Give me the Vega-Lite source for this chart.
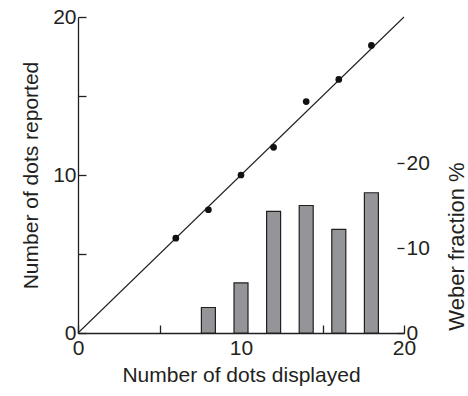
{
  "$schema": "https://vega.github.io/schema/vega-lite/v6.json",
  "width": 326,
  "height": 316,
  "autosize": {"type": "none"},
  "padding": {"left": 78, "top": 17, "right": 64, "bottom": 63},
  "background": "white",
  "config": {
    "view": {"stroke": null},
    "axis": {
      "grid": false,
      "labelFlush": false,
      "labelFont": "Liberation Sans",
      "titleFont": "Liberation Sans",
      "labelFontSize": 21,
      "titleFontSize": 21,
      "titleFontWeight": "normal",
      "labelColor": "#231f20",
      "titleColor": "#231f20",
      "domainColor": "#231f20",
      "tickColor": "#231f20",
      "domainWidth": 1.3,
      "tickWidth": 1.3
    }
  },
  "datasets": {
    "diag": [{"displayed": 0, "reported": 0}, {"displayed": 20, "reported": 20}],
    "points": [
      {"displayed": 6, "reported": 6.0},
      {"displayed": 8, "reported": 7.8},
      {"displayed": 10, "reported": 10.0},
      {"displayed": 12, "reported": 11.75},
      {"displayed": 14, "reported": 14.65},
      {"displayed": 16, "reported": 16.05},
      {"displayed": 18, "reported": 18.2}
    ],
    "weber": [
      {"displayed": 8, "weber": 3.0},
      {"displayed": 10, "weber": 5.9},
      {"displayed": 12, "weber": 14.3},
      {"displayed": 14, "weber": 15.0},
      {"displayed": 16, "weber": 12.2},
      {"displayed": 18, "weber": 16.5}
    ]
  },
  "layer": [
    {
      "layer": [
        {
          "data": {"name": "diag"},
          "mark": {"type": "line", "color": "#231f20", "strokeWidth": 1.1},
          "encoding": {
            "x": {
              "field": "displayed", "type": "quantitative",
              "scale": {"domain": [0, 20], "padding": 0, "nice": false},
              "axis": {
                "domain": true,
                "values": [0, 5, 10, 15, 20],
                "labelExpr": "datum.value % 10 === 0 ? datum.label : ''",
                "tickSize": -8,
                "labelPadding": 12,
                "title": "Number of dots displayed",
                "titlePadding": 6
              }
            },
            "y": {
              "field": "reported", "type": "quantitative",
              "scale": {"domain": [0, 20], "nice": false},
              "axis": {
                "domain": true,
                "values": [0, 5, 10, 15, 20],
                "labelExpr": "datum.value % 10 === 0 ? datum.label : ''",
                "tickSize": -8,
                "labelPadding": 10,
                "title": "Number of dots reported",
                "titlePadding": 11
              }
            }
          }
        },
        {
          "data": {"name": "points"},
          "mark": {"type": "circle", "size": 45, "color": "#111111", "opacity": 1},
          "encoding": {
            "x": {"field": "displayed", "type": "quantitative"},
            "y": {"field": "reported", "type": "quantitative"}
          }
        }
      ]
    },
    {
      "layer": [
        {
          "data": {"name": "weber"},
          "mark": {"type": "bar", "orient": "vertical", "size": 14, "fill": "#939598", "stroke": "#231f20", "strokeWidth": 1.2},
          "encoding": {
            "x": {"field": "displayed", "type": "quantitative", "scale": {"domain": [0, 20], "padding": 0, "nice": false}},
            "y": {
              "field": "weber", "type": "quantitative",
              "scale": {"domain": [0, 37.18], "nice": false},
              "axis": {
                "orient": "right",
                "values": [0, 10, 20],
                "domain": false,
                "tickSize": -7,
                "labelPadding": 9,
                "title": "Weber fraction %",
                "titleFontSize": 22,
                "titleAngle": 270,
                "titleX": 59,
                "titleY": 229,
                "titleAlign": "center",
                "titleBaseline": "alphabetic"
              }
            }
          }
        },
        {
          "mark": {"type": "rule", "color": "#231f20", "strokeWidth": 1.3},
          "encoding": {
            "x": {"datum": 20},
            "y": {"datum": 0},
            "y2": {"datum": 20}
          }
        }
      ]
    }
  ],
  "resolve": {"scale": {"y": "independent"}}
}
